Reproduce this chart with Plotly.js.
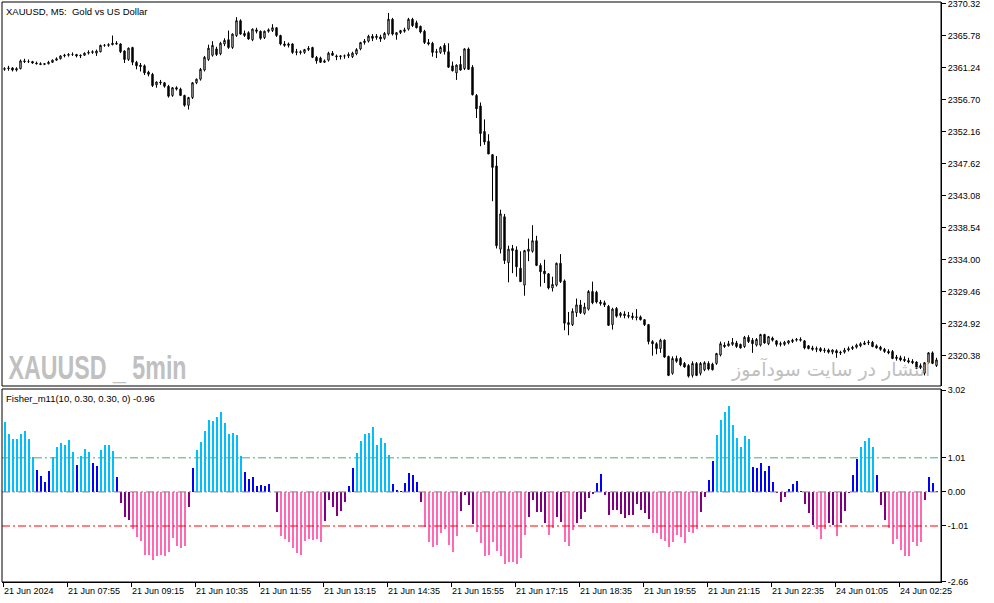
<!DOCTYPE html>
<html><head><meta charset="utf-8">
<script src="https://cdn.plot.ly/plotly-3.0.1.min.js"></script>
<style>html,body{margin:0;padding:0;background:#fff;}#chart{width:994px;height:603px;}</style>
</head><body><div id="chart"></div>
<script>
const opens = [
2361.0,2361.1,2361.2,2360.9,2361.1,2362.2,2362.1,2362.1,2361.9,2361.8,
2361.7,2361.8,2362.0,2362.3,2362.5,2362.9,2363.0,2363.1,2363.1,2362.9,
2363.0,2363.3,2363.4,2363.3,2363.5,2364.4,2364.4,2364.5,2364.7,2364.6,
2363.6,2362.4,2364.1,2362.0,2361.6,2361.5,2360.6,2360.3,2358.8,2359.2,
2359.1,2358.6,2357.3,2358.4,2358.2,2357.3,2355.9,2357.0,2359.1,2359.6,
2360.9,2362.4,2363.0,2363.9,2363.2,2364.6,2365.2,2364.1,2365.8,2367.9,
2366.1,2366.2,2365.2,2366.6,2366.4,2365.5,2366.4,2366.5,2366.9,2365.8,
2364.6,2364.4,2364.6,2363.4,2363.5,2363.4,2363.8,2364.1,2362.7,2362.6,
2362.0,2362.3,2363.3,2362.9,2362.8,2362.9,2362.9,2362.8,2363.2,2363.9,
2364.8,2365.0,2365.7,2365.5,2365.6,2365.4,2366.0,2368.1,2365.9,2366.2,
2366.4,2366.7,2368.1,2367.6,2367.1,2366.4,2364.8,2364.7,2363.4,2363.4,
2364.4,2363.5,2361.5,2360.5,2361.7,2361.1,2363.9,2361.3,2357.3,2355.8,
2352.2,2350.8,2348.9,2347.3,2335.5,2340.1,2333.6,2335.6,2335.4,2332.8,
2330.4,2335.2,2335.2,2336.7,2333.2,2332.4,2332.0,2330.0,2330.4,2333.5,
2331.0,2324.8,2324.8,2326.5,2327.6,2326.4,2327.0,2329.5,2329.4,2328.0,
2327.9,2327.4,2324.8,2327.1,2326.1,2326.3,2326.1,2326.0,2325.8,2325.9,
2325.5,2324.8,2322.4,2322.1,2321.4,2322.6,2320.3,2317.9,2320.0,2320.0,
2319.3,2319.0,2317.6,2319.3,2317.9,2318.4,2319.3,2319.2,2319.3,2320.5,
2321.9,2321.8,2322.0,2322.2,2322.0,2321.7,2323.0,2322.6,2321.9,2321.9,
2323.4,2322.1,2322.9,2322.5,2322.0,2322.0,2322.2,2322.4,2322.6,2322.7,
2322.5,2321.8,2321.5,2321.3,2321.4,2321.1,2321.2,2320.9,2321.1,2320.9,
2320.9,2321.2,2321.4,2321.6,2321.8,2322.0,2322.2,2322.3,2321.8,2321.6,
2321.3,2321.0,2321.0,2320.0,2320.1,2319.9,2319.7,2319.6,2319.5,2318.7,
2317.9,2319.4,2320.8,2319.0];
const highs = [
2361.3,2361.5,2361.3,2361.3,2362.4,2362.5,2362.4,2362.2,2362.1,2362.0,
2361.9,2362.2,2362.4,2362.7,2363.0,2363.2,2363.3,2363.4,2363.2,2363.1,
2363.4,2363.7,2363.7,2363.8,2364.5,2364.6,2364.7,2365.8,2365.0,2364.7,
2363.7,2364.1,2364.2,2362.2,2361.9,2361.7,2360.8,2360.5,2359.3,2359.5,
2359.2,2358.8,2358.5,2358.6,2358.4,2357.4,2357.1,2359.2,2359.7,2361.2,
2362.9,2364.5,2365.0,2364.2,2364.9,2365.4,2366.5,2366.1,2368.4,2368.1,
2366.5,2366.4,2366.8,2366.9,2366.5,2366.5,2366.8,2367.4,2367.0,2365.9,
2365.0,2364.8,2364.7,2363.9,2363.7,2363.9,2364.3,2364.2,2362.9,2362.8,
2362.4,2363.5,2363.6,2363.1,2363.0,2363.1,2363.4,2363.5,2364.0,2364.9,
2365.3,2365.9,2366.0,2366.0,2365.9,2366.3,2369.0,2368.3,2366.3,2366.6,
2366.9,2368.3,2368.3,2367.9,2367.2,2366.6,2365.3,2364.9,2363.9,2364.3,
2364.7,2364.7,2362.1,2361.7,2362.9,2364.0,2364.1,2361.6,2357.5,2356.3,
2353.9,2351.8,2349.0,2348.7,2341.1,2340.5,2336.0,2336.1,2335.9,2335.2,
2335.4,2337.0,2338.9,2337.4,2333.5,2334.0,2332.1,2331.6,2333.6,2334.8,
2331.2,2326.6,2327.1,2328.5,2328.3,2327.9,2329.7,2330.9,2329.6,2328.3,
2328.2,2327.6,2327.2,2327.3,2326.6,2326.7,2326.6,2326.5,2327.0,2326.1,
2325.6,2324.9,2322.6,2322.3,2322.8,2322.7,2320.4,2320.3,2320.4,2320.2,
2319.5,2319.2,2319.6,2319.5,2319.5,2319.6,2319.6,2319.4,2320.8,2322.4,
2322.3,2322.5,2322.9,2322.5,2322.1,2323.2,2323.3,2322.9,2322.9,2323.5,
2323.5,2323.2,2323.1,2322.6,2322.4,2322.5,2322.6,2322.8,2322.9,2323.0,
2322.6,2321.9,2321.8,2321.7,2321.6,2321.5,2321.4,2321.3,2321.3,2321.1,
2321.5,2321.7,2321.8,2322.1,2322.3,2322.5,2322.6,2322.5,2322.0,2321.8,
2321.5,2321.3,2321.2,2320.5,2320.4,2320.3,2320.1,2319.9,2319.6,2319.3,
2319.5,2320.9,2321.0,2320.1];
const lows = [
2360.8,2360.8,2360.7,2360.7,2361.0,2361.9,2361.9,2361.8,2361.7,2361.6,
2361.6,2361.7,2361.9,2362.2,2362.4,2362.7,2362.8,2362.9,2362.7,2362.6,
2362.9,2363.1,2363.2,2362.9,2363.4,2364.2,2364.2,2364.4,2364.5,2363.3,
2361.9,2362.2,2361.6,2361.0,2360.7,2360.2,2360.0,2358.5,2358.4,2358.8,
2358.4,2357.0,2357.1,2358.0,2357.2,2355.7,2355.3,2356.8,2358.9,2359.4,
2360.7,2362.2,2362.8,2362.9,2363.0,2364.3,2363.9,2363.9,2365.6,2365.9,
2365.6,2365.2,2365.0,2366.1,2365.2,2365.3,2366.2,2366.3,2365.6,2364.4,
2364.2,2364.1,2363.2,2363.0,2363.1,2363.2,2363.6,2362.6,2361.8,2361.9,
2361.9,2362.1,2362.9,2362.3,2362.4,2362.5,2362.6,2362.6,2363.0,2363.7,
2364.5,2364.8,2365.0,2365.2,2364.9,2365.2,2365.8,2365.8,2365.2,2366.0,
2366.2,2366.5,2367.0,2366.8,2366.1,2364.6,2364.4,2362.8,2362.6,2363.2,
2363.1,2361.2,2360.7,2359.5,2360.8,2360.9,2360.9,2357.3,2354.1,2350.1,
2350.3,2349.0,2342.3,2335.6,2334.9,2333.4,2330.8,2332.1,2331.6,2330.9,
2328.9,2333.8,2335.0,2333.1,2330.2,2330.7,2329.8,2329.5,2330.2,2330.7,
2324.0,2323.3,2324.6,2325.9,2326.3,2326.2,2326.8,2327.7,2327.8,2327.5,
2327.3,2324.6,2324.1,2325.8,2325.8,2325.7,2325.7,2325.5,2325.4,2325.4,
2324.6,2322.0,2320.4,2320.6,2320.8,2320.1,2317.5,2317.7,2319.4,2318.9,
2318.7,2317.3,2317.3,2317.5,2317.6,2318.2,2318.3,2318.3,2319.1,2320.3,
2321.5,2321.7,2321.8,2321.5,2321.4,2321.5,2322.2,2320.8,2321.7,2321.7,
2322.1,2321.9,2322.4,2321.7,2321.7,2321.8,2322.0,2322.2,2322.4,2322.4,
2321.3,2321.3,2321.1,2320.9,2320.9,2320.8,2320.7,2320.6,2320.1,2320.5,
2320.7,2321.0,2321.2,2321.4,2321.6,2321.9,2321.9,2321.6,2321.4,2321.1,
2320.8,2320.6,2319.9,2319.7,2319.6,2319.5,2319.3,2319.2,2318.5,2318.5,
2317.6,2319.2,2319.2,2318.8];
const closes = [
2361.1,2361.2,2360.9,2361.1,2362.2,2362.1,2362.1,2361.9,2361.8,2361.7,
2361.8,2362.0,2362.3,2362.5,2362.9,2363.0,2363.1,2363.1,2362.9,2363.0,
2363.3,2363.4,2363.5,2363.6,2364.4,2364.4,2364.5,2364.7,2364.6,2363.5,
2362.4,2364.0,2362.0,2361.5,2361.4,2360.5,2360.3,2358.7,2359.2,2359.1,
2358.6,2357.2,2358.4,2358.2,2357.3,2355.9,2357.0,2359.1,2359.6,2361.0,
2362.7,2364.0,2364.4,2363.1,2364.7,2365.1,2364.1,2366.0,2367.9,2366.0,
2365.8,2365.3,2366.7,2366.4,2365.4,2366.4,2366.6,2366.9,2365.8,2364.6,
2364.4,2364.6,2363.4,2363.5,2363.4,2363.8,2364.0,2362.7,2362.2,2362.0,
2362.2,2363.3,2363.0,2362.8,2362.9,2362.9,2363.1,2363.3,2363.8,2364.8,
2365.0,2365.7,2365.4,2365.7,2365.3,2366.1,2368.1,2366.0,2366.2,2366.5,
2366.6,2368.1,2367.2,2366.9,2366.3,2364.8,2364.6,2363.4,2363.5,2364.1,
2363.5,2361.3,2360.8,2361.6,2360.9,2363.9,2361.0,2357.4,2355.4,2351.9,
2350.7,2349.0,2347.1,2336.0,2340.5,2333.9,2335.5,2335.3,2333.0,2330.9,
2335.3,2335.5,2336.7,2333.2,2332.3,2332.0,2330.0,2330.5,2333.5,2330.9,
2325.0,2325.1,2326.7,2327.6,2326.5,2327.3,2329.5,2327.9,2328.0,2327.8,
2327.6,2324.7,2327.0,2326.0,2326.4,2326.1,2326.0,2325.8,2325.9,2325.5,
2324.8,2322.4,2322.1,2321.4,2322.6,2320.2,2317.6,2320.0,2319.6,2319.1,
2318.8,2317.5,2319.3,2317.6,2319.3,2319.4,2318.5,2318.4,2320.7,2322.1,
2321.7,2322.1,2322.3,2321.7,2321.5,2323.0,2322.4,2322.1,2322.7,2323.4,
2322.2,2323.1,2322.6,2322.0,2322.1,2322.3,2322.5,2322.6,2322.7,2322.6,
2321.5,2321.4,2321.3,2321.4,2321.1,2321.2,2320.9,2321.2,2320.8,2320.8,
2321.2,2321.4,2321.6,2321.9,2322.1,2322.2,2322.3,2321.7,2321.5,2321.3,
2321.0,2320.8,2320.0,2320.2,2319.8,2319.7,2319.5,2319.4,2318.6,2319.0,
2319.4,2320.8,2319.3,2319.8];
const fisher = [
2.06,1.72,1.58,1.58,1.72,1.81,1.57,1.03,0.66,0.46,
0.30,0.63,1.03,1.34,1.46,1.40,1.55,1.17,0.81,1.07,
1.28,1.19,0.86,0.77,1.25,1.40,1.39,1.22,0.43,-0.34,
-0.73,-0.84,-1.10,-1.33,-1.44,-1.88,-1.86,-2.03,-1.89,-1.86,
-1.91,-1.78,-1.38,-1.60,-1.67,-1.61,-0.46,0.70,1.23,1.49,
1.82,2.14,2.11,2.23,2.38,2.05,1.73,1.76,1.69,1.05,
0.60,0.39,0.45,0.19,0.21,0.19,0.24,0.01,-0.59,-1.32,
-1.41,-1.49,-1.66,-1.81,-1.87,-1.46,-1.39,-1.42,-1.41,-1.48,
-0.85,-0.23,-0.46,-0.70,-0.56,-0.31,0.18,0.72,1.16,1.52,
1.72,1.75,1.93,1.40,1.60,1.46,1.08,0.24,0.07,0.04,
0.27,0.57,0.49,0.30,-0.29,-1.05,-1.47,-1.64,-1.56,-1.23,
-1.09,-1.58,-1.79,-1.30,-0.58,-0.08,-0.40,-0.96,-1.20,-1.50,
-1.91,-1.86,-1.49,-1.76,-1.91,-2.15,-2.09,-2.08,-2.15,-1.97,
-1.29,-0.75,-0.25,-0.59,-0.61,-0.93,-1.29,-1.08,-0.75,-0.90,
-1.47,-1.61,-1.14,-0.93,-0.81,-0.59,-0.19,-0.07,0.27,0.54,
-0.10,-0.67,-0.53,-0.55,-0.64,-0.78,-0.67,-0.67,-0.37,-0.55,
-0.63,-0.81,-1.23,-1.23,-1.39,-1.44,-1.64,-1.49,-1.29,-1.35,
-1.52,-1.20,-1.23,-1.11,-0.61,-0.16,0.36,0.92,1.69,2.14,
2.37,2.55,1.99,1.61,1.32,1.66,1.56,0.75,0.72,0.86,
0.63,0.78,0.30,-0.04,-0.31,-0.16,0.09,0.24,0.33,0.04,
-0.37,-0.63,-0.99,-1.11,-1.41,-1.11,-0.93,-0.99,-1.32,-0.93,
-0.58,-0.04,0.51,0.98,1.34,1.52,1.60,1.34,0.49,-0.40,
-0.84,-1.08,-1.55,-1.41,-1.73,-1.91,-1.91,-1.47,-1.61,-1.47,
-0.25,0.45,0.27,0.04];
const timeLabels = ["21 Jun 2024","21 Jun 07:55","21 Jun 09:15","21 Jun 10:35","21 Jun 11:55","21 Jun 13:15","21 Jun 14:35","21 Jun 15:55","21 Jun 17:15","21 Jun 18:35","21 Jun 19:55","21 Jun 21:15","21 Jun 22:35","24 Jun 01:05","24 Jun 02:25"];
const priceTicks = [2370.32,2365.78,2361.24,2356.70,2352.16,2347.62,2343.08,2338.54,2334.00,2329.46,2324.92,2320.38];
const fisherTicks = [3.02,1.01,0.00,-1.01,-2.66];
const levelUp = 1.01, levelZero = 0, levelDown = -1.01;
const lastFisher = -0.96;

const idx = closes.map((_, i) => i);
const barColors = fisher.map(v => v >= 1 ? '#00BFFF' : (v > 0 ? '#0000FF' : (v <= -1 ? '#FF69B4' : '#800080')));
const FONT = 'Liberation Sans, Arial, sans-serif';

const traces = [
  {type:'candlestick', x:idx, open:opens, high:highs, low:lows, close:closes, xaxis:'x', yaxis:'y',
   increasing:{line:{color:'#000', width:1}, fillcolor:'#ffffff'},
   decreasing:{line:{color:'#000', width:1}, fillcolor:'#000000'},
   whiskerwidth:0, hoverinfo:'skip', showlegend:false},
  {type:'bar', x:idx, y:fisher, xaxis:'x', yaxis:'y2', width:0.5,
   marker:{color:barColors, line:{width:0}}, hoverinfo:'skip', showlegend:false}
];

const topDom = [(582-386)/580, 1];
const botDom = [0, (582-389)/580];
const lvl = (y, color) => ({type:'line', xref:'paper', x0:0, x1:1, yref:'y2', y0:y, y1:y,
  line:{color:color, width:1, dash:'8px,3px,2px,3px'}, layer:'above'});
const tf = {family:FONT, size:9, color:'#000'};

const layout = {
  width:994, height:603,
  margin:{l:2, r:53, t:2, b:21, pad:0},
  paper_bgcolor:'#ffffff', plot_bgcolor:'#ffffff',
  showlegend:false, boxgap:0.5, bargap:0,
  font:{family:FONT, size:9, color:'#000'},
  xaxis:{domain:[0,1], anchor:'y2', range:[-0.625, 234.125], autorange:false,
    tickmode:'array', tickvals:timeLabels.map((_, k) => 16*k - 0.375), ticktext:timeLabels,
    ticks:'outside', ticklen:4, tickwidth:1, tickcolor:'#000', ticklabelposition:'outside right',
    showgrid:false, zeroline:false, showline:true, linecolor:'#000', linewidth:1,
    rangeslider:{visible:false}, fixedrange:true, tickfont:tf},
  yaxis:{domain:topDom, anchor:'x', side:'right', range:[2316.1, 2370.55], autorange:false,
    tickmode:'array', tickvals:priceTicks, ticktext:priceTicks.map(v => v.toFixed(2)),
    ticks:'outside', ticklen:4, tickcolor:'#000', showgrid:false, zeroline:false, ticklabeloverflow:'allow',
    showline:true, linecolor:'#000', fixedrange:true, tickfont:tf},
  yaxis2:{domain:botDom, anchor:'x', side:'right', range:[-2.67, 3.05], autorange:false,
    tickmode:'array', tickvals:fisherTicks, ticktext:fisherTicks.map(v => v.toFixed(2)),
    ticks:'outside', ticklen:4, tickcolor:'#000', showgrid:false, zeroline:false, ticklabeloverflow:'allow',
    showline:true, linecolor:'#000', fixedrange:true, tickfont:tf},
  shapes:[
    lvl(levelUp, '#3CB371'), lvl(levelZero, '#808080'), lvl(levelDown, '#FF0000'),
    {type:'rect', xref:'paper', yref:'paper', x0:0, x1:1, y0:topDom[0], y1:1, line:{color:'#000', width:1}, fillcolor:'rgba(0,0,0,0)', layer:'above'},
    {type:'rect', xref:'paper', yref:'paper', x0:0, x1:1, y0:0, y1:botDom[1], line:{color:'#000', width:1}, fillcolor:'rgba(0,0,0,0)', layer:'above'}
  ],
  annotations:[
    {xref:'paper', yref:'paper', x:0, y:1, xanchor:'left', yanchor:'top', xshift:2, yshift:-2,
     text:'XAUUSD, M5:\u00a0 Gold vs US Dollar', showarrow:false, font:{family:FONT, size:9.5, color:'#000'}},
    {xref:'paper', yref:'paper', x:(97-2)/939, y:(582-367)/580, xanchor:'center', yanchor:'middle',
     text:'XAUUSD _ 5min', showarrow:false, font:{family:'Liberation Sans Narrow, Liberation Sans, Arial, sans-serif', size:33, color:'#C0C0C0', weight:'bold'}},
    {xref:'paper', yref:'paper', x:(932-2)/939, y:(582-369)/580, xanchor:'right', yanchor:'middle',
     text:'انتشار در سایت سودآموز', showarrow:false, font:{family:'DejaVu Sans, sans-serif', size:19, color:'#C0C0C0'}},
    {xref:'paper', yref:'paper', x:0, y:botDom[1], xanchor:'left', yanchor:'top', xshift:2, yshift:-2,
     text:'Fisher_m11(10, 0.30, 0.30, 0) ' + lastFisher.toFixed(2), showarrow:false, font:{family:FONT, size:9.5, color:'#000'}}
  ]
};

Plotly.newPlot('chart', traces, layout, {staticPlot:true, displayModeBar:false}).then(gd => {
  gd.querySelectorAll('.annotation-text').forEach(t => {
    if (t.textContent === 'XAUUSD _ 5min') {
      t.setAttribute('textLength', '178');
      t.setAttribute('lengthAdjust', 'spacingAndGlyphs');
    }
  });
});
</script>
</body></html>
